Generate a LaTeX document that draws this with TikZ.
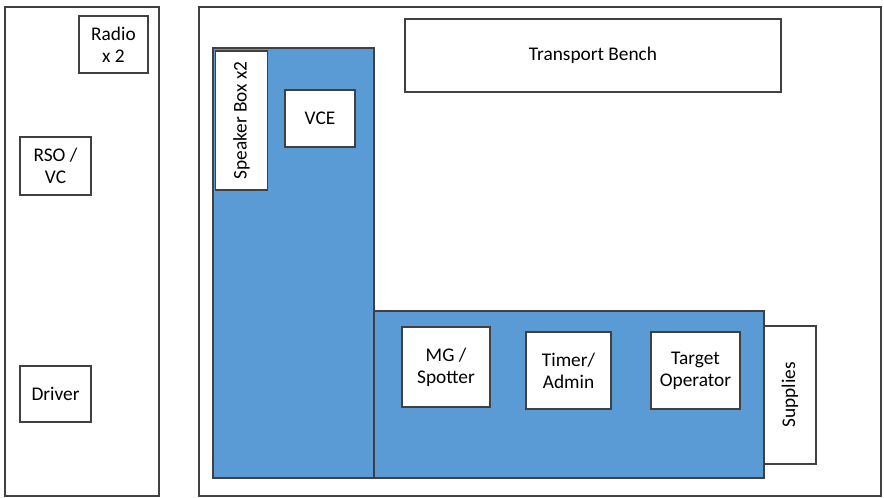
\documentclass[tikz,border=0pt]{standalone}
\usepackage{fontspec}
\setmainfont{Carlito}
\definecolor{zoneblue}{RGB}{91, 155, 213}
\definecolor{edgegray}{RGB}{64, 64, 64}
\usetikzlibrary{positioning, calc}
\tikzset{
  area/.style={draw=edgegray, line width=0.9pt, fill=white},
  zone/.style={draw=edgegray, line width=0.9pt, fill=zoneblue},
  seat/.style={draw=edgegray, line width=0.9pt, fill=white, align=center, inner sep=0pt, outer sep=0pt, font=\fontsize{14.5}{16.5}\selectfont},
}

\begin{document}
\begin{tikzpicture}[x=0.75pt, y=-0.75pt]
  \useasboundingbox (0,0) rectangle (884,498);
  % vehicle areas
  \draw[area] (5,7) rectangle (159,496);
  \draw[area] (199,7) rectangle (881,496);
  % blue floor
  \draw[zone] (213,48) rectangle (374,478);
  \draw[zone] (374,311) rectangle (764,478);
  % left side
  \node[seat, minimum width=69*0.75pt, minimum height=57*0.75pt] (radio) at (113.5,44.5) {Radio\\x 2};
  \node[seat, minimum width=71*0.75pt, minimum height=58*0.75pt] (rso) at (55.5,166) {RSO /\\VC};
  \node[seat, minimum width=71*0.75pt, minimum height=56*0.75pt] (driver) at (55.5,394) {Driver};
  % right side
  \node[seat, minimum width=376*0.75pt, minimum height=73*0.75pt] (bench) at (593,55.5) {Transport Bench};
  \node[seat, minimum width=139*0.75pt, minimum height=52*0.75pt, rotate=90] (speaker) at (241.5,120.5) {Speaker Box x2};
  \node[seat, minimum width=70*0.75pt, minimum height=57*0.75pt] (vce) at (320,118.5) {VCE};
  \node[seat, minimum width=88*0.75pt, minimum height=80*0.75pt] (mg) at (446,367) {MG /\\Spotter};
  \node[seat, minimum width=85*0.75pt, minimum height=77*0.75pt] (timer) at (568.5,370.5) {Timer/\\Admin};
  \node[seat, minimum width=89*0.75pt, minimum height=77*0.75pt] (target) at (695.5,370.5) {Target\\Operator};
  \node[seat, minimum width=138*0.75pt, minimum height=52*0.75pt, rotate=90] (supplies) at (790,395) {Supplies};
\end{tikzpicture}
\end{document}
